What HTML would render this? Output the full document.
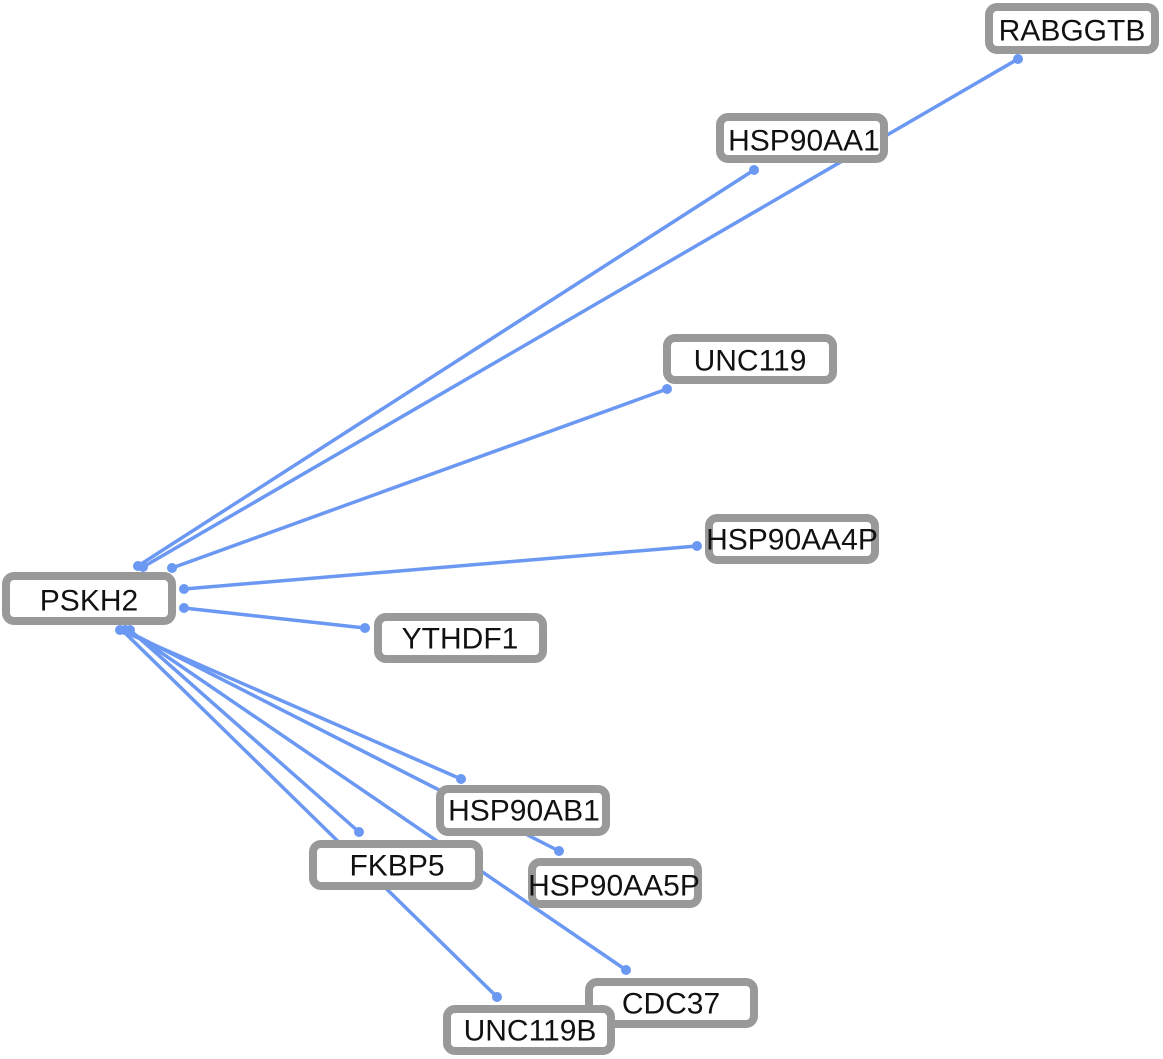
<!DOCTYPE html>
<html><head><meta charset="utf-8"><style>
html,body{margin:0;padding:0;background:#fff;}
svg{display:block;}
text{font-family:"Liberation Sans",sans-serif;font-size:30px;fill:#111;text-anchor:middle;dominant-baseline:central;}
</style></head><body>
<svg width="1163" height="1059" viewBox="0 0 1163 1059" xmlns="http://www.w3.org/2000/svg">
<g stroke="#6b98f2" stroke-width="3.5" fill="none">
<line x1="138" y1="566" x2="754" y2="170"/>
<line x1="143" y1="567" x2="1018" y2="59"/>
<line x1="172" y1="568" x2="667" y2="389"/>
<line x1="184" y1="589" x2="697" y2="546"/>
<line x1="184" y1="608" x2="365" y2="628"/>
<line x1="120" y1="630" x2="461" y2="779"/>
<line x1="125" y1="630" x2="559" y2="851"/>
<line x1="130" y1="630" x2="359" y2="832"/>
<line x1="128" y1="630" x2="626" y2="970"/>
<line x1="122" y1="630" x2="497" y2="997"/>
</g>
<g fill="#6b98f2">
<circle cx="138" cy="566" r="5"/><circle cx="754" cy="170" r="5"/>
<circle cx="143" cy="567" r="5"/><circle cx="1018" cy="59" r="5"/>
<circle cx="172" cy="568" r="5"/><circle cx="667" cy="389" r="5"/>
<circle cx="184" cy="589" r="5"/><circle cx="697" cy="546" r="5"/>
<circle cx="184" cy="608" r="5"/><circle cx="365" cy="628" r="5"/>
<circle cx="120" cy="630" r="5"/><circle cx="461" cy="779" r="5"/>
<circle cx="125" cy="630" r="5"/><circle cx="559" cy="851" r="5"/>
<circle cx="130" cy="630" r="5"/><circle cx="359" cy="832" r="5"/>
<circle cx="626" cy="970" r="5"/><circle cx="497" cy="997" r="5"/>
</g>
<g fill="#fff" stroke="#999" stroke-width="8">
<rect x="989" y="7" width="166" height="43" rx="8"/>
<rect x="720" y="117" width="164" height="42" rx="8"/>
<rect x="667" y="338" width="166" height="42" rx="8"/>
<rect x="709" y="518" width="166" height="42" rx="8"/>
<rect x="6" y="576" width="166" height="45" rx="8"/>
<rect x="378" y="617" width="165" height="42" rx="8"/>
<rect x="440" y="789" width="166" height="43" rx="8"/>
<rect x="313" y="844" width="166" height="42" rx="8"/>
<rect x="532" y="862" width="166" height="42" rx="8"/>
<rect x="589" y="982" width="165" height="42" rx="8"/>
<rect x="447" y="1009" width="164" height="42" rx="8"/>
</g>
<text x="1072" y="31">RABGGTB</text>
<text x="804" y="141">HSP90AA1</text>
<text x="750" y="361">UNC119</text>
<text x="792" y="540">HSP90AA4P</text>
<text x="89" y="601">PSKH2</text>
<text x="460" y="639">YTHDF1</text>
<text x="524" y="811">HSP90AB1</text>
<text x="397" y="866">FKBP5</text>
<text x="614" y="886">HSP90AA5P</text>
<text x="671" y="1004">CDC37</text>
<text x="530" y="1031">UNC119B</text>
</svg>
</body></html>
